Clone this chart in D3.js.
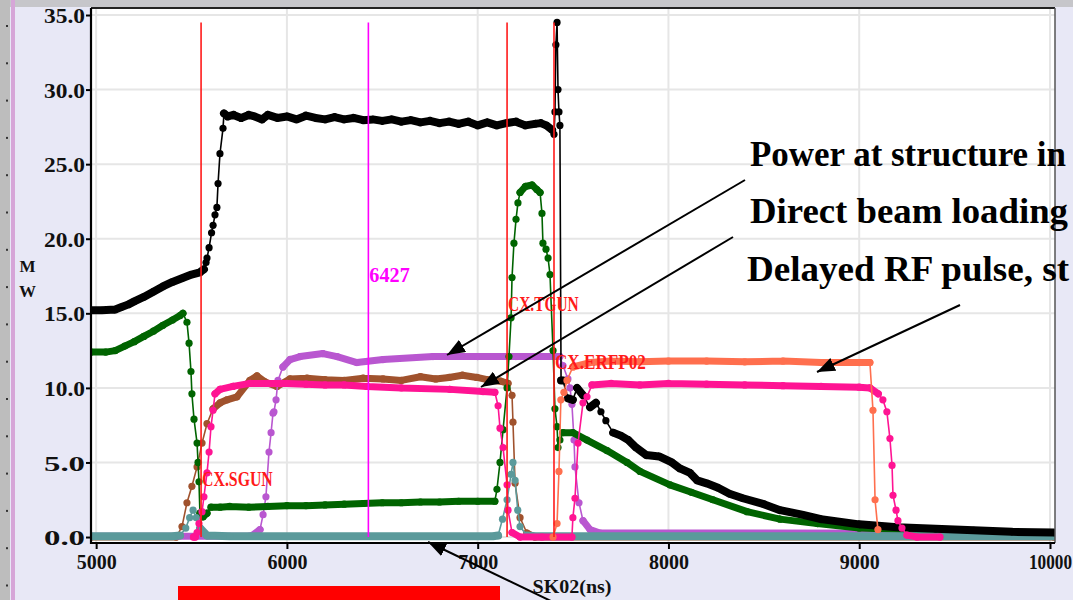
<!DOCTYPE html>
<html>
<head>
<meta charset="utf-8">
<script src="https://cdn.jsdelivr.net/npm/d3@7"></script>
<style>
  body { margin: 0; background: #e8e8f6; overflow: hidden; }
  svg { display: block; }
</style>
</head>
<body>
<div id="chart"></div>
<script>
// axis ticks
const timeTicks = [5000, 6000, 7000, 8000, 9000, 10000];
const powerTicks = [0, 5, 10, 15, 20, 25, 30, 35];

// traces, [time ns, MW]
const blackTrace = [
  [4973, 15.2], [5030, 15.2], [5100, 15.25], [5130, 15.4], [5170, 15.6], [5200, 15.8], [5250, 16.1],
  [5300, 16.45], [5350, 16.8], [5400, 17.1], [5450, 17.35], [5500, 17.6], [5544, 17.75], [5565, 17.95],
  [5576, 18.4], [5581, 18.7], [5592, 19.4], [5605, 20.4], [5613, 20.9], [5623, 21.6], [5633, 22.1],
  [5639, 23.7], [5649, 25.7], [5665, 27.4], [5670, 28.4], [5690, 28.2], [5720, 28.3], [5760, 28.1],
  [5800, 28.3], [5830, 28.2], [5870, 28.0], [5900, 28.3], [5950, 28.1], [6000, 28.2], [6050, 28.0],
  [6100, 28.25], [6150, 28.1], [6200, 28.0], [6250, 28.15], [6300, 28.0], [6350, 28.1], [6400, 27.95],
  [6450, 28.0], [6500, 27.9], [6550, 28.0], [6600, 27.85], [6650, 27.95], [6700, 27.8], [6750, 27.9],
  [6800, 27.75], [6850, 27.85], [6900, 27.7], [6950, 27.85], [7000, 27.6], [7050, 27.8], [7100, 27.6],
  [7150, 27.75], [7200, 27.85], [7250, 27.6], [7300, 27.7], [7330, 27.75], [7360, 27.6], [7390, 27.3],
  [7400, 27.0], [7405, 28.5], [7410, 33.0], [7416, 34.5], [7421, 30.0], [7426, 28.5], [7431, 27.6],
  [7437, 10.5], [7447, 10.5], [7473, 9.3], [7499, 9.2], [7521, 10.0], [7552, 9.5], [7589, 8.7],
  [7620, 9.0], [7646, 8.4], [7672, 7.8], [7710, 7.0], [7750, 6.8], [7790, 6.5], [7830, 6.0],
  [7883, 5.5], [7951, 5.4], [8018, 5.0], [8060, 4.6], [8113, 4.3], [8150, 3.8], [8200, 3.6],
  [8260, 3.3], [8320, 2.9], [8390, 2.6], [8500, 2.2], [8585, 1.8], [8700, 1.5], [8800, 1.2],
  [9000, 0.85], [9200, 0.65], [9400, 0.55], [9600, 0.45], [9800, 0.35], [10021, 0.3]
];
const greenTrace = [
  [4973, 12.4], [5050, 12.4], [5100, 12.5], [5150, 12.8], [5200, 13.1], [5250, 13.45], [5300, 13.8],
  [5350, 14.2], [5400, 14.55], [5440, 14.85], [5455, 15.0], [5476, 14.4], [5487, 13.0], [5497, 11.1],
  [5502, 9.6], [5513, 7.9], [5529, 6.3], [5534, 5.0], [5539, 3.7], [5544, 1.6], [5560, 1.35],
  [5581, 1.6], [5602, 2.0], [5650, 2.0], [5700, 2.05], [5800, 2.0], [5900, 2.05], [6000, 2.1],
  [6100, 2.1], [6200, 2.15], [6300, 2.2], [6400, 2.25], [6500, 2.3], [6600, 2.3], [6700, 2.35],
  [6800, 2.35], [6900, 2.4], [7000, 2.4], [7090, 2.4], [7101, 3.2], [7117, 5.0], [7133, 7.2],
  [7154, 10.0], [7164, 12.1], [7175, 14.7], [7180, 17.4], [7190, 19.7], [7201, 21.3], [7211, 22.4],
  [7222, 23.1], [7250, 23.5], [7285, 23.6], [7310, 23.3], [7327, 23.1], [7337, 21.7], [7342, 19.7],
  [7358, 19.3], [7369, 18.7], [7379, 17.6], [7395, 12.5], [7405, 8.6], [7416, 7.4], [7421, 6.0],
  [7431, 6.5], [7447, 7.0], [7499, 7.0], [7573, 6.5], [7678, 5.8], [7783, 5.0], [7851, 4.4],
  [8008, 3.5], [8120, 3.0], [8233, 2.5], [8412, 1.7], [8585, 1.2], [8780, 0.9], [9000, 0.6],
  [9476, 0.4], [10021, 0.27]
];
const brownTrace = [
  [4973, 0], [5420, 0], [5450, 0.7], [5476, 2.3], [5502, 3.4], [5529, 4.7], [5555, 6.3], [5581, 7.6],
  [5613, 8.6], [5650, 9.0], [5686, 9.2], [5738, 9.4], [5806, 10.5], [5843, 10.8], [5885, 10.4],
  [5948, 10.1], [6016, 10.6], [6105, 10.65], [6200, 10.55], [6300, 10.5], [6400, 10.65], [6504, 10.6],
  [6600, 10.5], [6700, 10.75], [6780, 10.6], [6850, 10.7], [6920, 10.85], [6996, 10.7], [7050, 10.55],
  [7120, 10.45], [7159, 10.3], [7180, 9.5], [7185, 7.7], [7196, 3.6], [7222, 1.3], [7258, 0.27],
  [7300, 0], [10021, 0]
];
const pinkTrace = [
  [5510, 0], [5520, 0], [5529, 0.3], [5539, 0.9], [5555, 1.7], [5565, 2.7], [5581, 4.3], [5592, 5.7],
  [5602, 7.4], [5613, 8.5], [5623, 9.6], [5649, 9.9], [5717, 10.1], [5806, 10.3], [5900, 10.3],
  [6000, 10.3], [6100, 10.25], [6200, 10.2], [6300, 10.2], [6420, 10.1], [6600, 10.0], [6855, 9.9],
  [7028, 9.75], [7090, 9.7], [7107, 8.8], [7117, 7.3], [7133, 6.0], [7154, 3.5], [7159, 1.8],
  [7180, 0.3], [7222, 0], [7337, 0], [7494, 0], [7499, 1.3], [7510, 2.6], [7526, 6.3], [7552, 9.0],
  [7573, 9.4], [7599, 10.2], [7700, 10.3], [7850, 10.2], [8000, 10.3], [8200, 10.25], [8400, 10.2],
  [8600, 10.15], [8800, 10.1], [9000, 10.05], [9056, 10.0], [9100, 9.6], [9124, 9.2], [9145, 8.4],
  [9161, 6.6], [9172, 4.8], [9177, 2.8], [9193, 1.8], [9203, 1.1], [9224, 0.6], [9250, 0.13],
  [9303, 0], [9423, 0]
];
const purpleTrace = [
  [4973, 0.05], [5800, 0.05], [5817, 0.1], [5859, 0.5], [5875, 1.5], [5890, 2.7], [5906, 5.7],
  [5917, 7.0], [5927, 8.3], [5932, 8.4], [5943, 9.2], [5953, 10.5], [5979, 11.4], [6016, 11.9],
  [6069, 12.1], [6189, 12.3], [6263, 12.1], [6367, 11.7], [6504, 11.9], [6766, 12.1], [7000, 12.1],
  [7200, 12.1], [7431, 12.1], [7447, 11.5], [7473, 10.6], [7484, 10.0], [7494, 8.9], [7505, 6.5],
  [7510, 4.7], [7531, 2.3], [7552, 1.1], [7589, 0.5], [7641, 0.27], [10021, 0.25]
];
const coralTrace = [
  [7395, 0], [7416, 0.9], [7426, 4.4], [7436, 9.2], [7452, 9.7], [7468, 10.5], [7499, 11.4],
  [7589, 11.7], [7700, 11.8], [7850, 11.75], [8000, 11.8], [8200, 11.8], [8400, 11.75], [8600, 11.8],
  [8800, 11.7], [9000, 11.7], [9056, 11.7], [9072, 8.5], [9083, 2.5], [9098, 0.5]
];
const tealTrace = [
  [4973, 0.05], [5400, 0.05], [5440, 0.1], [5470, 0.6], [5490, 1.3], [5508, 1.8], [5525, 1.3],
  [5545, 0.6], [5581, 0.1], [5700, 0.05], [7080, 0.05], [7107, 0.1], [7130, 1.2], [7154, 2.5],
  [7175, 4.2], [7185, 5.0], [7196, 3.8], [7210, 1.8], [7222, 0.7], [7258, 0.1], [7300, 0.05],
  [10021, 0.05]
];

// cursors
const cursorTimes = [5550, 6427, 7154, 7400];
const cursorLabels = ["CX.SGUN", "6427", "CX.TGUN", "CX.ERFP02"];

// slide notes, as far as they are visible
const notes = ["Power at structure in", "Direct beam loading", "Delayed RF pulse, st"];

const W = 1073, H = 600;
const box = { left: 91, right: 1055, top: 8, bottom: 543 };

const svg = d3.select("#chart").append("svg")
  .attr("width", W).attr("height", H);

// slide background
svg.append("rect").attr("width", W).attr("height", H).attr("fill", "#e8e8f6");
svg.append("rect").attr("x", 0).attr("y", 0).attr("width", W).attr("height", 7).attr("fill", "#c6c6ca");
svg.append("rect").attr("x", 0).attr("y", 0).attr("width", 10).attr("height", H).attr("fill", "#bdbdbd");
svg.append("rect").attr("x", 11).attr("y", 0).attr("width", 4).attr("height", H).attr("fill", "#d6a6d8");
d3.range(25, H, 37.3).forEach(yy => {
  svg.append("rect").attr("x", 6).attr("y", yy).attr("width", 2).attr("height", 2).attr("fill", "#333");
});

const x = d3.scaleLinear().domain([4973, 10021]).range([box.left, box.right - 1]);
const y = d3.scaleLinear().domain([-0.4, 35.47]).range([box.bottom, box.top]);

svg.append("rect")
  .attr("x", box.left).attr("y", box.top)
  .attr("width", box.right - box.left).attr("height", box.bottom - box.top)
  .attr("fill", "#fff");

svg.append("defs").append("clipPath").attr("id", "plot-clip")
  .append("rect")
  .attr("x", box.left).attr("y", box.top)
  .attr("width", box.right - box.left).attr("height", box.bottom - box.top);

// grid
const grid = svg.append("g").attr("stroke", "#e6e6e6").attr("stroke-width", 2);
timeTicks.forEach(t => grid.append("line")
  .attr("x1", x(t)).attr("x2", x(t)).attr("y1", box.top).attr("y2", box.bottom));
powerTicks.forEach(v => grid.append("line")
  .attr("x1", box.left).attr("x2", box.right).attr("y1", y(v)).attr("y2", y(v)));

// axes
const tickFont = "'Liberation Serif', serif";
const yAxis = svg.append("g")
  .attr("transform", `translate(${box.left},0)`)
  .call(d3.axisLeft(y).tickValues(powerTicks).tickFormat(d3.format(".1f")).tickSize(5).tickSizeOuter(0).tickPadding(1));
yAxis.select(".domain").remove();
yAxis.selectAll("line").attr("stroke", "#000").attr("stroke-width", 2);
yAxis.selectAll("text")
  .attr("font-family", tickFont).attr("font-weight", "bold").attr("font-size", 21)
  .attr("fill", "#111").attr("dy", "0.36em")
  .attr("textLength", 41).attr("lengthAdjust", "spacingAndGlyphs");

const xAxis = svg.append("g")
  .attr("transform", `translate(0,${box.bottom})`)
  .call(d3.axisBottom(x).tickValues(timeTicks).tickFormat(d3.format("d")).tickSize(6).tickSizeOuter(0).tickPadding(6));
xAxis.select(".domain").remove();
xAxis.selectAll("line").attr("stroke", "#000").attr("stroke-width", 2);
xAxis.selectAll("text")
  .attr("font-family", tickFont).attr("font-weight", "bold").attr("font-size", 20)
  .attr("fill", "#111")
  .attr("textLength", d => d === 10000 ? 43 : 40).attr("lengthAdjust", "spacingAndGlyphs");

svg.append("text")
  .attr("x", 572).attr("y", 593).attr("text-anchor", "middle")
  .attr("font-family", tickFont).attr("font-weight", "bold").attr("font-size", 19)
  .attr("fill", "#111").attr("textLength", 79).attr("lengthAdjust", "spacingAndGlyphs")
  .text("SK02(ns)");

["M", "W"].forEach((c, i) => {
  svg.append("text")
    .attr("x", 27.5).attr("y", 272 + i * 25).attr("text-anchor", "middle")
    .attr("font-family", tickFont).attr("font-weight", "bold").attr("font-size", 17)
    .attr("fill", "#111").text(c);
});

// traces
const plot = svg.append("g").attr("clip-path", "url(#plot-clip)");
const line = d3.line().x(d => x(d[0])).y(d => y(d[1]));

function drawTrace(points, color, bandWidth = 7) {
  const g = plot.append("g");
  // dense samples look like a solid band where the trace is shallow
  let band = "";
  for (let i = 1; i < points.length; i++) {
    const x0 = x(points[i - 1][0]), y0 = y(points[i - 1][1]);
    const x1 = x(points[i][0]), y1 = y(points[i][1]);
    if (Math.abs(y1 - y0) <= 1.3 * Math.abs(x1 - x0)) band += `M${x0},${y0}L${x1},${y1}`;
  }
  g.append("path").attr("d", band)
    .attr("fill", "none").attr("stroke", color).attr("stroke-width", bandWidth).attr("stroke-linecap", "round");
  g.append("path").datum(points).attr("d", line)
    .attr("fill", "none").attr("stroke", color).attr("stroke-width", 1.6);
  g.selectAll("circle").data(points).join("circle")
    .attr("cx", d => x(d[0])).attr("cy", d => y(d[1])).attr("r", 3.6).attr("fill", color);
}

drawTrace(brownTrace, "#a0522d");
drawTrace(purpleTrace, "#b957d0");
drawTrace(greenTrace, "#006400");
drawTrace(tealTrace, "#5b9a9b", 8);
drawTrace(blackTrace, "#000000", 8);
drawTrace(pinkTrace, "#ff1493");
drawTrace(coralTrace, "#ff6f4e");

// cursors
const cursorFont = "'Liberation Serif', serif";
const labelLevel = [3.4, 17.1, 15.15, 11.25];
cursorTimes.forEach((t, i) => {
  const col = cursorLabels[i] === "6427" ? "#ff00ff" : "#ff1a1a";
  svg.append("line")
    .attr("x1", x(t)).attr("x2", x(t)).attr("y1", y(34.5)).attr("y2", y(0))
    .attr("stroke", col).attr("stroke-width", 1.6);
  svg.append("text")
    .attr("x", x(t) + 1).attr("y", y(labelLevel[i]))
    .attr("font-family", cursorFont).attr("font-weight", "bold").attr("font-size", 20)
    .attr("fill", col)
    .attr("textLength", cursorLabels[i].length * 10.1).attr("lengthAdjust", "spacingAndGlyphs")
    .text(cursorLabels[i]);
});

// frame
const frame = svg.append("g").attr("fill", "none");
frame.append("line").attr("x1", box.left).attr("x2", box.right).attr("y1", box.top).attr("y2", box.top)
  .attr("stroke", "#222").attr("stroke-width", 2);
frame.append("line").attr("x1", box.right).attr("x2", box.right).attr("y1", box.top).attr("y2", box.bottom)
  .attr("stroke", "#555").attr("stroke-width", 1.5);
frame.append("line").attr("x1", box.left).attr("x2", box.left).attr("y1", box.top).attr("y2", box.bottom + 1)
  .attr("stroke", "#000").attr("stroke-width", 2.2);
frame.append("line").attr("x1", box.left).attr("x2", box.right).attr("y1", box.bottom).attr("y2", box.bottom)
  .attr("stroke", "#000").attr("stroke-width", 2.2);

// slide overlay: red bar, notes and arrows
svg.append("rect").attr("x", 178).attr("y", 586).attr("width", 322).attr("height", 14).attr("fill", "#ff0000");

svg.append("defs").append("marker")
  .attr("id", "head").attr("markerUnits", "userSpaceOnUse")
  .attr("markerWidth", 20).attr("markerHeight", 14)
  .attr("refX", 18).attr("refY", 7).attr("orient", "auto")
  .append("path").attr("d", "M0,0L18,7L0,14Z").attr("fill", "#000");

const arrows = [
  [745, 180, 447, 355],
  [733, 237, 481, 387],
  [960, 305, 817, 372],
  [553, 602, 428, 542]
];
arrows.forEach(a => {
  svg.append("line")
    .attr("x1", a[0]).attr("y1", a[1]).attr("x2", a[2]).attr("y2", a[3])
    .attr("stroke", "#000").attr("stroke-width", 2)
    .attr("marker-end", "url(#head)");
});

const noteX = [750, 750, 747];
const noteY = [166, 223, 281];
const noteWidth = [316, 318, 322];
notes.forEach((n, i) => {
  svg.append("text")
    .attr("x", noteX[i]).attr("y", noteY[i])
    .attr("font-family", "'Liberation Serif', 'Times New Roman', serif")
    .attr("font-weight", "bold").attr("font-size", 36)
    .attr("fill", "#000")
    .attr("textLength", noteWidth[i]).attr("lengthAdjust", "spacingAndGlyphs")
    .text(n);
});
</script>
</body>
</html>
